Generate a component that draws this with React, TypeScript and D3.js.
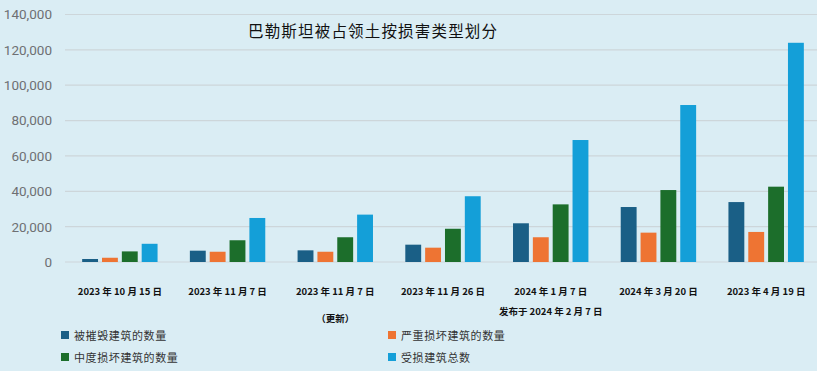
import React from "react";
import * as d3 from "d3";

const categories = [
  "2023 年 10 月 15 日",
  "2023 年 11 月 7 日",
  "2023 年 11 月 7 日",
  "2023 年 11 月 26 日",
  "2024 年 1 月 7 日",
  "2024 年 3 月 20 日",
  "2023 年 4 月 19 日",
];
const subLabels = ["", "", "（更新）", "", "发布于 2024 年 2 月 7 日", "", ""];
const seriesNames = ["被摧毁建筑的数量", "严重损坏建筑的数量", "中度损坏建筑的数量", "受损建筑总数"];
const destroyed = [1700, 6400, 6600, 9800, 21900, 31100, 33900];
const severe = [2400, 5800, 5800, 8100, 14000, 16600, 17000];
const moderate = [6000, 12300, 14000, 18800, 32600, 40700, 42600];
const total = [10300, 24900, 26800, 37200, 69000, 88800, 124000];
const yTicks = [0, 20000, 40000, 60000, 80000, 100000, 120000, 140000];
const colors = ["#1a5f86", "#ee7433", "#1c6e2b", "#149fd8"];
const title = "巴勒斯坦被占领土按损害类型划分";

export default function App() {
  const W = 817, H = 371;
  const series = [destroyed, severe, moderate, total];
  const x = d3.scaleBand<number>().domain(d3.range(categories.length)).range([66, 820]).paddingInner(0.3).paddingOuter(0.15);
  const xs = d3.scaleBand<number>().domain(d3.range(4)).range([0, x.bandwidth()]).paddingInner(0.2);
  const y = d3.scaleLinear().domain([0, 140000]).range([262, 14.5]);
  const fmt = d3.format(",");
  const cjk = "'Noto Sans CJK SC', sans-serif";
  return (
    <svg width={W} height={H} style={{ position: "absolute", left: 0, top: 0, background: "#daedf4" }}>
      <rect x={0} y={0} width={W} height={H} fill="#daedf4" />
      {yTicks.map((t) => (
        <g key={t}>
          <line x1={65} x2={W} y1={y(t)} y2={y(t)} stroke="#cdd6da" strokeWidth={1.2} />
          <text x={52} y={y(t)} dy="0.36em" textAnchor="end" fontFamily="'Liberation Sans Narrow', Roboto, sans-serif" fontSize={13.5} fill="#6e7073">
            {fmt(t)}
          </text>
        </g>
      ))}
      {categories.map((c, i) => (
        <g key={i}>
          {series.map((s, j) => (
            <rect key={j} x={(x(i) as number) + (xs(j) as number)} y={y(s[i])} width={xs.bandwidth()} height={y(0) - y(s[i])} fill={colors[j]} />
          ))}
          <text x={(x(i) as number) + x.bandwidth() / 2} y={295} textAnchor="middle" fontFamily={cjk} fontSize={9.5} fontWeight="bold" fill="#111">
            {c}
          </text>
          {subLabels[i] && (
            <text x={(x(i) as number) + x.bandwidth() / 2} y={i === 2 ? 322 : 315} textAnchor="middle" fontFamily={cjk} fontSize={9.5} fontWeight="bold" fill="#111">
              {subLabels[i]}
            </text>
          )}
        </g>
      ))}
      <text x={248} y={37} textLength={249} lengthAdjust="spacing" fontFamily={cjk} fontSize={15.5} fill="#111">
        {title}
      </text>
      {seriesNames.map((n, j) => {
        const lx = j % 2 === 0 ? 61 : 388;
        const ly = j < 2 ? 336 : 358;
        return (
          <g key={n}>
            <rect x={lx} y={ly - 5} width={8} height={8} fill={colors[j]} />
            <text x={lx + 13} y={ly} dy="0.35em" fontFamily={cjk} fontSize={11} letterSpacing={0.6} fill="#333">
              {n}
            </text>
          </g>
        );
      })}
    </svg>
  );
}
